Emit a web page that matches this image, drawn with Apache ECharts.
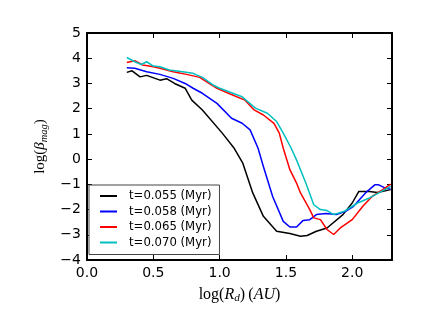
<!DOCTYPE html>
<html>
<head>
<meta charset="utf-8">
<script src="https://cdn.jsdelivr.net/npm/echarts@6/dist/echarts.min.js"></script>
<style>
  html, body { margin: 0; padding: 0; background: #fff; }
  #chart { width: 436px; height: 327px; }
</style>
</head>
<body>
<div id="chart"></div>
<script>
// legend labels
const seriesNames = ["t=0.055 (Myr)", "t=0.058 (Myr)", "t=0.065 (Myr)", "t=0.070 (Myr)"];
const seriesColors = ["#000000", "#0000ff", "#ff0000", "#00bfbf"];

// log(R_d) / log(beta) points
const black = [
  [0.30, 3.44], [0.34, 3.50], [0.40, 3.26], [0.45, 3.32], [0.55, 3.13], [0.60, 3.19],
  [0.66, 3.00], [0.74, 2.81], [0.79, 2.34], [0.87, 1.95], [1.02, 1.03], [1.11, 0.43],
  [1.175, -0.16], [1.25, -1.34], [1.33, -2.27], [1.43, -2.86], [1.53, -2.95], [1.61, -3.06],
  [1.66, -3.03], [1.73, -2.86], [1.81, -2.73], [1.93, -2.20], [2.00, -1.74], [2.05, -1.28],
  [2.13, -1.28], [2.19, -1.32], [2.29, -1.21]
];
const blue = [
  [0.30, 3.62], [0.36, 3.60], [0.45, 3.46], [0.55, 3.36], [0.65, 3.20], [0.74, 3.00],
  [0.80, 2.81], [0.87, 2.61], [0.98, 2.21], [1.09, 1.62], [1.17, 1.42], [1.23, 1.16],
  [1.29, 0.43], [1.33, -0.29], [1.40, -1.48], [1.48, -2.47], [1.53, -2.69], [1.58, -2.69],
  [1.63, -2.43], [1.68, -2.40], [1.73, -2.20], [1.80, -2.16], [1.88, -2.20], [1.95, -2.07],
  [2.01, -1.87], [2.10, -1.34], [2.17, -1.02], [2.20, -1.02], [2.25, -1.15], [2.29, -1.19]
];
const red = [
  [0.30, 3.83], [0.36, 3.90], [0.42, 3.73], [0.50, 3.66], [0.55, 3.60], [0.65, 3.46],
  [0.75, 3.36], [0.85, 3.24], [0.92, 3.00], [0.98, 2.81], [1.08, 2.58], [1.19, 2.34],
  [1.26, 1.95], [1.33, 1.75], [1.41, 1.42], [1.45, 1.03], [1.48, 0.43], [1.53, -0.42],
  [1.58, -0.95], [1.61, -1.34], [1.68, -2.00], [1.71, -2.33], [1.76, -2.40], [1.81, -2.79],
  [1.86, -2.99], [1.91, -2.73], [2.00, -2.40], [2.08, -1.87], [2.15, -1.48], [2.23, -1.21],
  [2.29, -0.99]
];
const cyan = [
  [0.30, 4.03], [0.36, 3.86], [0.41, 3.75], [0.45, 3.86], [0.50, 3.69], [0.55, 3.66],
  [0.62, 3.53], [0.72, 3.46], [0.80, 3.40], [0.87, 3.24], [0.95, 2.94], [1.00, 2.81],
  [1.17, 2.47], [1.27, 2.02], [1.36, 1.82], [1.43, 1.49], [1.48, 1.03], [1.54, 0.43],
  [1.58, -0.03], [1.65, -0.95], [1.71, -1.81], [1.76, -2.00], [1.81, -2.04], [1.86, -2.20],
  [1.94, -2.07], [2.04, -1.74], [2.13, -1.54], [2.20, -1.34], [2.29, -1.08]
];
const allData = [black, blue, red, cyan];

const chart = echarts.init(document.getElementById("chart"));

const minus = (v) => String(v).replace("-", "\u2212");
const tickFont = { fontFamily: "DejaVu Sans", fontSize: 14, color: "#000" };
const serif = "Liberation Serif";

// name styles, math-looking
const mathRich = (size) => ({
  n: { fontFamily: serif, fontSize: size, color: "#000" },
  i: { fontFamily: serif, fontSize: size, fontStyle: "italic", color: "#000" },
  s: { fontFamily: serif, fontSize: size * 0.7, fontStyle: "italic", color: "#000", padding: [8, 0, 0, 0] }
});

// frame axis, ticks inside, optionally labelled
const frameAxis = (extra, showLabel) => Object.assign({
  axisLine: { show: true, onZero: false, lineStyle: { color: "#000", width: 2 } },
  axisTick: { show: true, inside: true, length: 5, lineStyle: { color: "#000", width: 1 } },
  splitLine: { show: false },
  axisLabel: showLabel ? Object.assign({ margin: 6 }, tickFont) : { show: false }
}, extra);

const option = {
  animation: false,
  grid: { left: 87, top: 33, width: 305, height: 227 },
  xAxis: [
    frameAxis({
      type: "value", min: 0, max: 2.3, interval: 0.5, position: "bottom",
      name: "{n|log(}{i|R}{s|d}{n|)\u2009(}{i|AU}{n|)}",
      nameLocation: "middle", nameGap: 25,
      nameTextStyle: { rich: mathRich(16) }
    }, true),
    frameAxis({ type: "value", min: 0, max: 2.3, interval: 0.5, position: "top" }, false)
  ],
  yAxis: [
    frameAxis({
      type: "value", min: -4, max: 5, interval: 1, position: "left",
      name: "{n|log(}{i|\u03b2}{s|mag}{n|)}",
      nameLocation: "middle", nameGap: 30, nameRotate: 90,
      nameTextStyle: { rich: mathRich(15) }
    }, true),
    frameAxis({ type: "value", min: -4, max: 5, interval: 1, position: "right" }, false)
  ],
  legend: {
    orient: "vertical",
    left: 89, top: 185,
    padding: [5, 8, 6, 11],
    itemGap: 3.5,
    itemWidth: 17, itemHeight: 2,
    icon: "rect",
    backgroundColor: "#fff",
    borderColor: "#444", borderWidth: 1,
    textStyle: { fontFamily: "DejaVu Sans", fontSize: 11.7, color: "#000", padding: [0, 0, 0, 7] },
    data: seriesNames
  },
  series: allData.map((d, i) => ({
    name: seriesNames[i],
    type: "line",
    data: d,
    showSymbol: false,
    symbol: "none",
    color: seriesColors[i],
    lineStyle: { color: seriesColors[i], width: 1.5 },
    z: 2 + i
  }))
};

option.yAxis[0].axisLabel.formatter = (v) => minus(v);
option.xAxis[0].axisLabel.formatter = (v) => v.toFixed(1);
option.xAxis[0].axisLabel.showMaxLabel = false;

chart.setOption(option);
</script>
</body>
</html>
